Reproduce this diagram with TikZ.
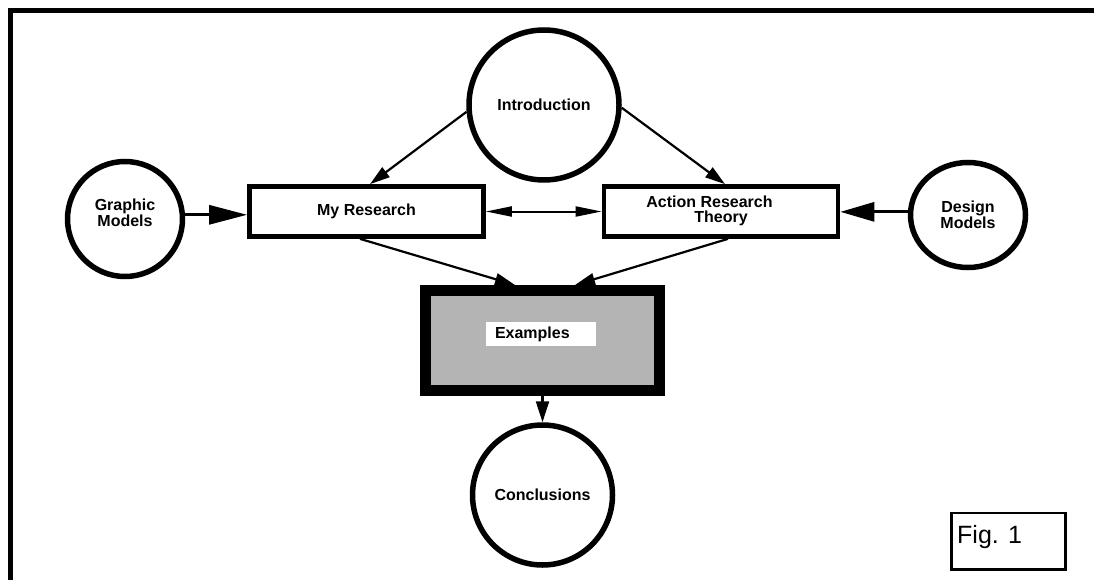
\documentclass[tikz,border=0pt]{standalone}
\usepackage{fontspec}
\setmainfont{Liberation Sans}
\usetikzlibrary{arrows.meta,shapes.geometric}
\definecolor{stip}{RGB}{180,180,180}
\newcommand\lbl{\bfseries\fontsize{16}{14.5}\selectfont}
\begin{document}
\begin{tikzpicture}[x=1pt,y=-1pt,
  circ/.style={circle,draw,line width=5.5pt,inner sep=0pt,font=\lbl,align=center},
  boxnode/.style={rectangle,draw,line width=4.7pt,inner sep=0pt,minimum height=50pt,minimum width=234pt,font=\lbl,align=center},
  txt/.style={inner sep=0pt,font=\lbl,align=center},
  conn/.style={line width=2.2pt,-{Triangle[length=20pt,width=12pt]}},
  big/.style={line width=3pt,-{Triangle[length=38pt,width=19pt]}},
]
\useasboundingbox (0,0) rectangle (1094,580);
% frame (right and bottom sides lie outside the picture)
\draw[line width=5pt] (10.5,580) -- (10.5,10.5) -- (1094,10.5);

% nodes
\node[circ,minimum size=150pt] (intro) at (544,105) {Introduction};
\node[circ,minimum size=115pt] (graphic) at (125,219) {};
\node[txt] (graphictxt) at (125,213) {Graphic\\Models};
\node[ellipse,draw,line width=5.5pt,inner sep=0pt,minimum width=115pt,minimum height=105pt,font=\lbl,align=center] (design) at (968,215) {Design\\Models};
\node[boxnode] (myres) at (366.5,211.5) {My Research};
\node[boxnode] (art) at (721,211.5) {};
\node[txt,align=left] (arttxt) at (709.5,211) {Action Research\\\hspace*{48pt}Theory};
\node[rectangle,draw,line width=11pt,fill=stip,minimum width=234pt,minimum height=100pt,inner sep=0pt] (examples) at (542.5,340.5) {};
\node[fill=white,minimum width=110pt,minimum height=24pt,inner sep=0pt,text width=92pt,align=left,font=\lbl] (exlabel) at (541,334) {Examples};
\node[circ,minimum size=140pt] (concl) at (542.5,495) {Conclusions};
\node[rectangle,draw,line width=2.5pt,minimum width=114pt,minimum height=56.5pt,inner sep=0pt] (figbox) at (1008.5,541.25) {};
\node[anchor=base west,font=\fontsize{25}{30}\selectfont,inner sep=0pt] (figtxt) at (957,543) {Fig. 1};

% connectors
\draw[conn] (intro.185) -- ([xshift=3.5pt]myres.north);
\draw[conn] (intro.358) -- ([xshift=4pt]art.north);
\draw[conn] ([xshift=-6.5pt]myres.south) -- ([xshift=-27.5pt]examples.north);
\draw[conn] ([xshift=7pt]art.south) -- ([xshift=32.5pt]examples.north);
\draw[line width=2.2pt,-{Triangle[length=21pt,width=13pt]}] (examples.south) -- (concl.north);
\draw[big] (graphic.4) -- (graphic.4 -| myres.west);
\draw[line width=3pt,-{Triangle[length=34pt,width=19pt]}] (design.177) -- (design.177 -| art.east);
\draw[line width=2pt,{Triangle[length=26pt,width=10pt]}-{Triangle[length=26pt,width=10pt]}] (myres.east) -- (art.west);
\end{tikzpicture}
\end{document}
